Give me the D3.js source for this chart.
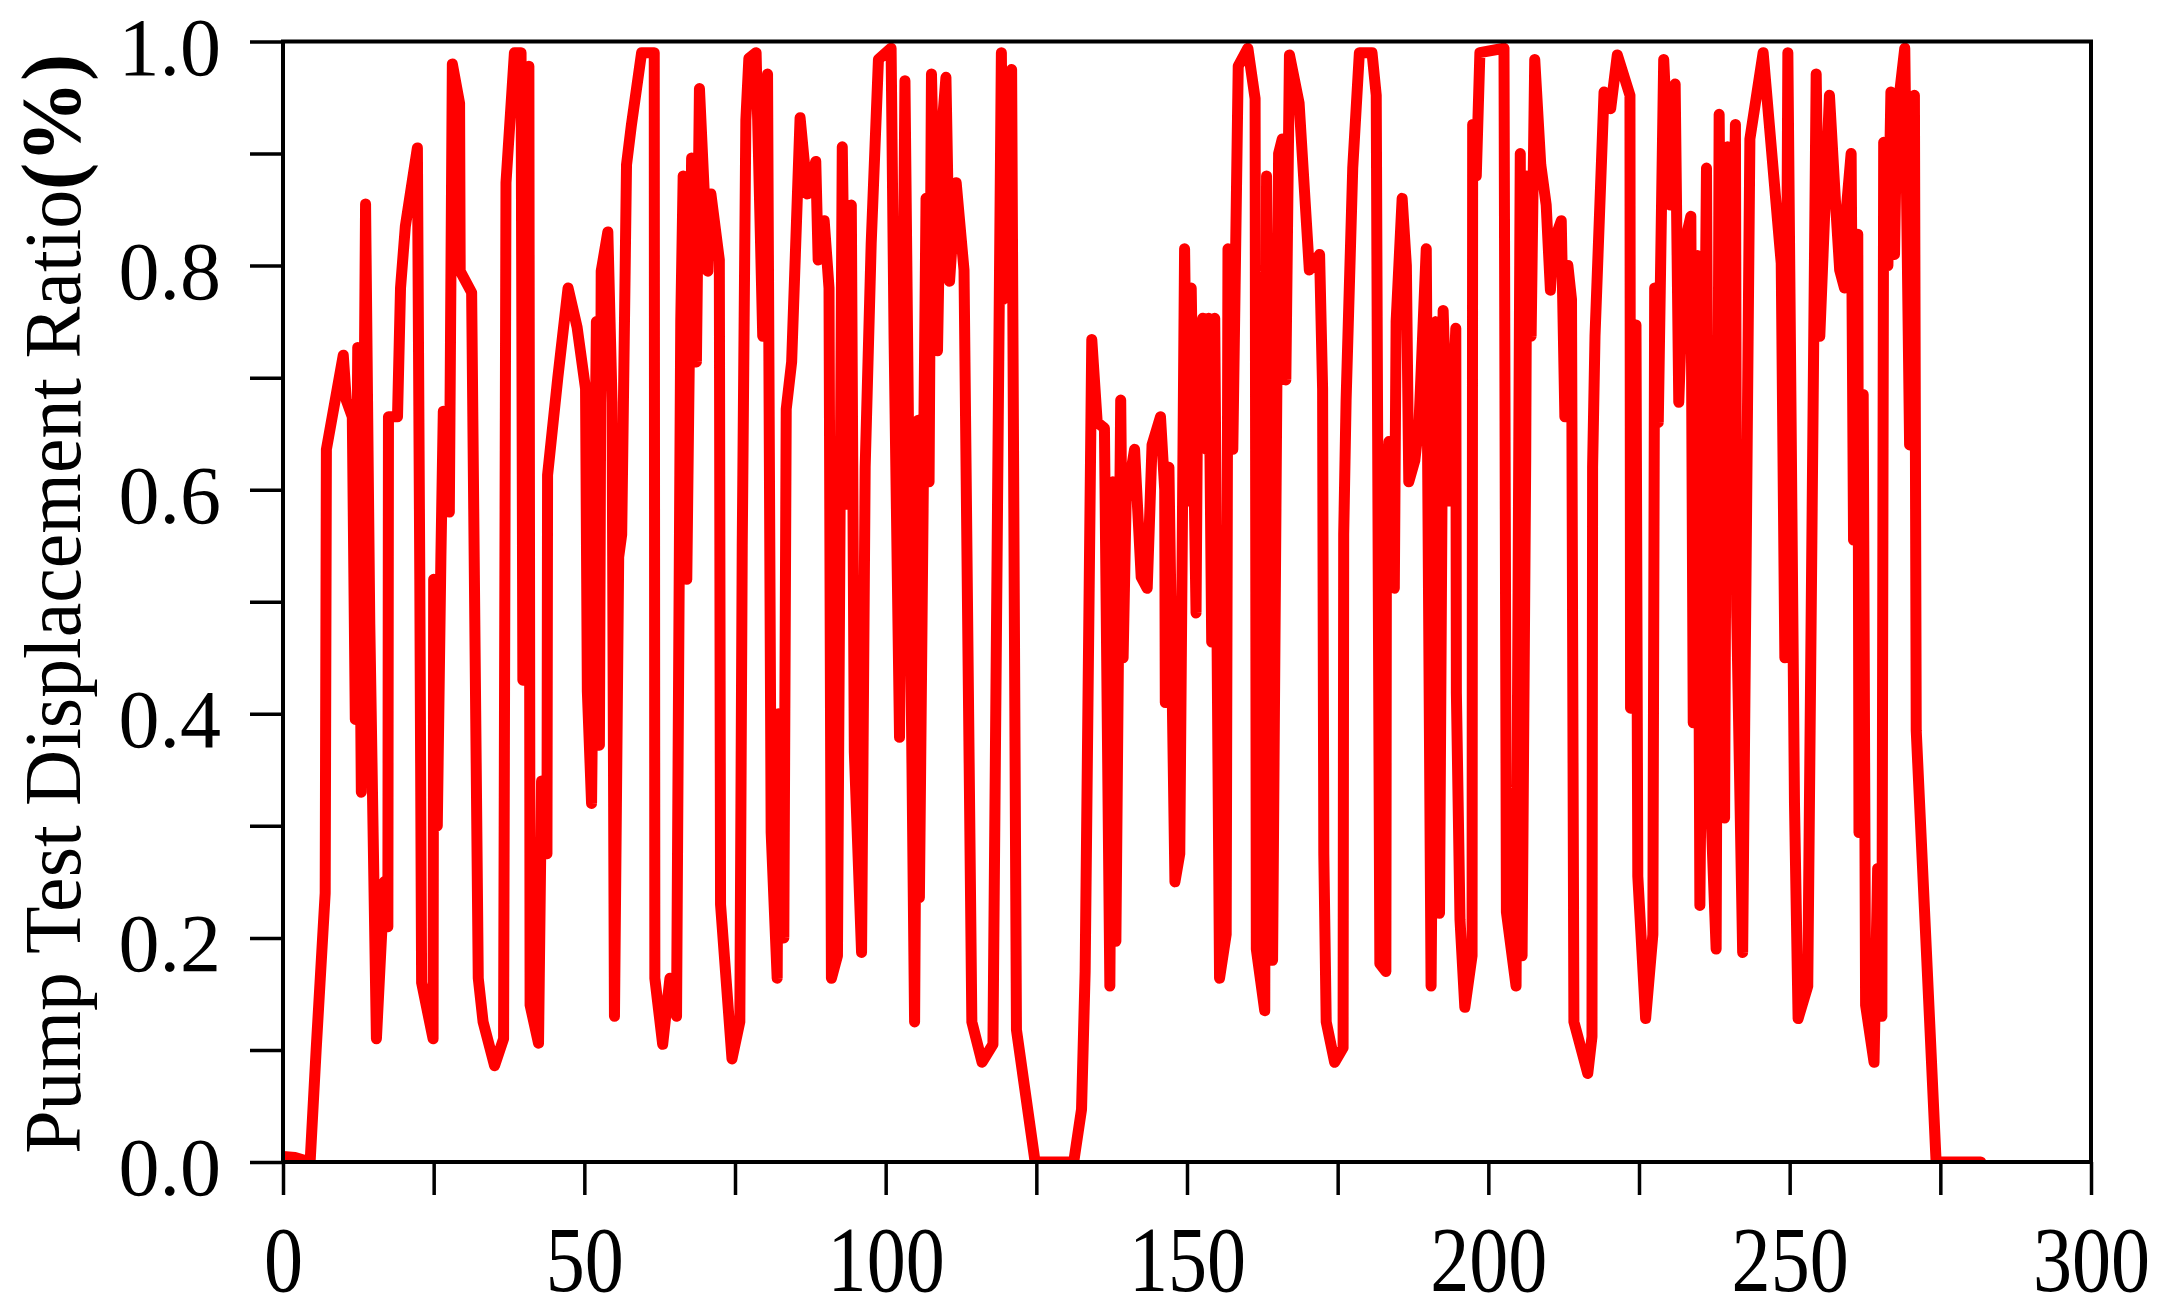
<!DOCTYPE html>
<html>
<head>
<meta charset="utf-8">
<script src="https://d3js.org/d3.v7.min.js"></script>
<style>
  html, body { margin: 0; padding: 0; background: #fff; }
  svg { display: block; }
  text { font-family: "Liberation Serif", "Times New Roman", Times, serif; }
</style>
</head>
<body>
<svg id="chart" width="2167" height="1314"></svg>
<script>
// ---- data ----
const timeValues = [
  0, 2, 4.5, 5.5, 7.0, 7.2, 10.0, 10.5, 11.5, 12.0, 12.4, 13.0, 13.7, 14.4, 15.5, 16.8, 17.4, 17.5, 19.0, 19.5,
  20.3, 22.3, 22.7, 23.0, 24.9, 25.0, 25.6, 26.2, 26.6, 27.6, 28.1, 29.3, 29.4, 31.3, 32.4, 33.2, 35.1, 36.6, 37.0, 38.4,
  39.5, 39.8, 40.8, 41.0, 42.4, 42.9, 43.8, 43.9, 45.6, 47.3, 48.8, 50.2, 50.5, 51.2, 52.0, 52.5, 52.8, 53.9, 54.6, 55.0,
  55.7, 56.2, 57.0, 57.8, 59.5, 61.6, 61.7, 63.0, 64.2, 65.3, 66.0, 66.4, 67.0, 67.8, 68.6, 69.1, 70.5, 71.0, 72.4, 72.6,
  74.5, 75.8, 76.2, 76.8, 77.3, 78.5, 79.6, 80.4, 81.0, 82.0, 82.2, 83.1, 83.5, 84.4, 85.8, 87.0, 88.4, 88.8, 89.8, 90.6,
  91.0, 92.0, 92.8, 93.6, 94.3, 94.8, 96.0, 96.6, 97.6, 98.8, 100.9, 101.4, 102.3, 103.2, 104.8, 105.4, 105.6, 106.7, 107.2, 107.6,
  108.6, 109.2, 110.0, 110.6, 111.7, 113.0, 114.3, 116.0, 117.8, 119.2, 119.5, 120.9, 121.7, 124.8, 131.2, 132.5, 133.1, 134.2, 135.1, 136.3,
  137.2, 137.7, 138.2, 139.0, 139.4, 139.9, 141.3, 142.4, 143.4, 144.2, 145.6, 146.3, 146.4, 147.0, 148.0, 148.8, 149.6, 150.1, 150.7, 151.5,
  151.8, 152.6, 153.2, 153.6, 154.1, 154.6, 155.4, 156.5, 156.8, 157.6, 158.5, 160.1, 161.3, 161.5, 162.9, 163.2, 164.2, 165.2, 165.8, 166.4,
  167.0, 168.6, 170.3, 172.0, 172.5, 172.7, 173.1, 174.5, 175.9, 176.0, 176.4, 177.5, 178.6, 180.7, 181.4, 182.0, 183.0, 183.1, 183.5, 184.4,
  184.7, 185.7, 186.4, 186.8, 187.8, 188.5, 189.7, 190.5, 191.3, 191.9, 192.5, 193.5, 194.6, 194.7, 195.3, 196.1, 197.3, 197.4, 198.0, 198.6,
  202.6, 203.0, 204.6, 205.3, 205.6, 206.2, 206.4, 207.1, 207.7, 208.7, 209.6, 210.3, 210.8, 212.1, 212.7, 213.2, 213.8, 214.2, 216.5, 217.2,
  217.3, 217.7, 219.2, 220.3, 221.4, 223.5, 223.6, 224.5, 224.8, 226.1, 227.3, 227.6, 228.2, 229.1, 230.2, 231.0, 231.6, 232.5, 233.6, 234.0,
  234.7, 235.1, 236.2, 236.7, 237.8, 238.3, 239.2, 239.7, 240.3, 241.0, 241.2, 242.2, 243.4, 245.6, 248.6, 249.2, 249.7, 250.8, 251.4, 253.0,
  254.4, 255.0, 256.6, 257.7, 258.3, 259.1, 259.4, 260.2, 260.6, 261.3, 261.5, 262.2, 262.6, 264.0, 264.6, 265.3, 265.6, 266.3, 266.8, 267.4,
  267.7, 268.2, 269.1, 269.9, 270.7, 271.0, 274.3, 281.7
];
const ratioValues = [
  0.005, 0.004, 0.0, 0.10, 0.24, 0.636, 0.72, 0.68, 0.665, 0.395, 0.727, 0.33, 0.855, 0.48, 0.11, 0.25, 0.21, 0.665, 0.665, 0.78,
  0.835, 0.905, 0.52, 0.16, 0.11, 0.52, 0.30, 0.54, 0.67, 0.58, 0.98, 0.945, 0.795, 0.776, 0.164, 0.125, 0.086, 0.11, 0.874, 0.99,
  0.99, 0.43, 0.978, 0.14, 0.106, 0.34, 0.275, 0.613, 0.70, 0.78, 0.745, 0.69, 0.42, 0.32, 0.75, 0.372, 0.795, 0.83, 0.678, 0.13,
  0.54, 0.56, 0.89, 0.925, 0.99, 0.99, 0.164, 0.105, 0.164, 0.13, 0.75, 0.88, 0.52, 0.896, 0.714, 0.958, 0.795, 0.864, 0.805, 0.23,
  0.092, 0.125, 0.55, 0.93, 0.985, 0.99, 0.737, 0.971, 0.294, 0.164, 0.40, 0.20, 0.672, 0.714, 0.932, 0.864, 0.893, 0.805, 0.84, 0.78,
  0.164, 0.184, 0.906, 0.587, 0.854, 0.366, 0.187, 0.62, 0.82, 0.984, 0.994, 0.734, 0.379, 0.965, 0.125, 0.662, 0.236, 0.86, 0.607, 0.971,
  0.724, 0.913, 0.968, 0.786, 0.874, 0.796, 0.125, 0.089, 0.105, 0.99, 0.77, 0.975, 0.118, 0.0, 0.0, 0.047, 0.17, 0.734, 0.66, 0.655,
  0.157, 0.607, 0.197, 0.68, 0.45, 0.59, 0.636, 0.522, 0.512, 0.64, 0.665, 0.60, 0.41, 0.62, 0.25, 0.275, 0.815, 0.59, 0.78, 0.49,
  0.714, 0.753, 0.636, 0.753, 0.464, 0.753, 0.164, 0.203, 0.815, 0.636, 0.978, 0.994, 0.949, 0.19, 0.135, 0.88, 0.18, 0.90, 0.913, 0.698,
  0.988, 0.945, 0.796, 0.81, 0.69, 0.275, 0.125, 0.089, 0.102, 0.56, 0.68, 0.887, 0.99, 0.99, 0.952, 0.177, 0.17, 0.607, 0.643, 0.512,
  0.75, 0.86, 0.80, 0.607, 0.626, 0.66, 0.815, 0.157, 0.75, 0.222, 0.76, 0.59, 0.744, 0.418, 0.216, 0.138, 0.184, 0.926, 0.88, 0.99,
  0.994, 0.223, 0.157, 0.90, 0.184, 0.626, 0.88, 0.737, 0.984, 0.89, 0.854, 0.778, 0.82, 0.84, 0.665, 0.80, 0.77, 0.125, 0.079, 0.112,
  0.62, 0.737, 0.955, 0.94, 0.988, 0.952, 0.405, 0.747, 0.255, 0.128, 0.203, 0.78, 0.66, 0.984, 0.854, 0.962, 0.678, 0.818, 0.844, 0.392,
  0.809, 0.229, 0.887, 0.346, 0.19, 0.935, 0.307, 0.906, 0.656, 0.926, 0.493, 0.187, 0.913, 0.99, 0.802, 0.45, 0.99, 0.32, 0.128, 0.157,
  0.971, 0.737, 0.952, 0.848, 0.796, 0.78, 0.85, 0.90, 0.555, 0.828, 0.294, 0.685, 0.14, 0.089, 0.262, 0.13, 0.91, 0.80, 0.955, 0.81,
  0.913, 0.952, 0.994, 0.64, 0.952, 0.385, 0.0, 0.0
];
const xTickValues = [0, 50, 100, 150, 200, 250, 300];
const xMinorTicks = [25, 75, 125, 175, 225, 275];
const yTickValues = [0.0, 0.2, 0.4, 0.6, 0.8, 1.0];
const yMinorTicks = [0.1, 0.3, 0.5, 0.7, 0.9];
const yLabelMain = "Pump Test Displacement Ratio";
const yLabelUnit = "(%)";

// ---- layout ----
const svg = d3.select("#chart");
const plotL = 283, plotR = 2091, plotT = 41.5, plotB = 1162;
const x = d3.scaleLinear().domain([0, 300]).range([plotL, plotR]);
const y = d3.scaleLinear().domain([0, 1]).range([plotB, plotT]);
const fontFamily = "Liberation Serif, Times New Roman, Times, serif";

const data = timeValues.map((t, i) => ({ t, v: ratioValues[i] }));

svg.append("defs").append("clipPath").attr("id", "plotclip")
  .append("rect").attr("x", plotL).attr("y", plotT - 6).attr("width", plotR - plotL).attr("height", plotB - plotT + 6);

svg.append("path")
  .datum(data)
  .attr("clip-path", "url(#plotclip)")
  .attr("fill", "none")
  .attr("stroke", "#ff0000")
  .attr("stroke-width", 11)
  .attr("stroke-linejoin", "round")
  .attr("stroke-linecap", "round")
  .attr("d", d3.line().x(d => x(d.t)).y(d => y(d.v)));

// frame
svg.append("rect")
  .attr("x", plotL).attr("y", plotT)
  .attr("width", plotR - plotL).attr("height", plotB - plotT)
  .attr("fill", "none").attr("stroke", "#000").attr("stroke-width", 4);

// x axis
const xAxis = d3.axisBottom(x).tickValues(xTickValues).tickSize(33).tickFormat(d3.format("d"));
const gx = svg.append("g").attr("transform", `translate(0,${plotB})`).call(xAxis);
gx.select(".domain").remove();
gx.selectAll(".tick line").attr("stroke", "#000").attr("stroke-width", 3.5);
gx.selectAll(".tick text")
  .style("font-family", fontFamily)
  .attr("font-size", 93)
  .attr("fill", "#000")
  .attr("y", 129)
  .attr("dy", 0)
  .attr("transform", "scale(0.84,1)");
const gxm = svg.append("g").attr("transform", `translate(0,${plotB})`)
  .call(d3.axisBottom(x).tickValues(xMinorTicks).tickSize(33).tickFormat(""));
gxm.select(".domain").remove();
gxm.selectAll(".tick line").attr("stroke", "#000").attr("stroke-width", 3.5);

// y axis
const yAxis = d3.axisLeft(y).tickValues(yTickValues).tickSize(33).tickPadding(29).tickFormat(d3.format(".1f"));
const gy = svg.append("g").attr("transform", `translate(${plotL},0)`).call(yAxis);
gy.select(".domain").remove();
gy.selectAll(".tick line").attr("stroke", "#000").attr("stroke-width", 3.5);
gy.selectAll(".tick text")
  .style("font-family", fontFamily)
  .attr("font-size", 82)
  .attr("fill", "#000")
  .attr("dy", "0.4em");
const gym = svg.append("g").attr("transform", `translate(${plotL},0)`)
  .call(d3.axisLeft(y).tickValues(yMinorTicks).tickSize(33).tickFormat(""));
gym.select(".domain").remove();
gym.selectAll(".tick line").attr("stroke", "#000").attr("stroke-width", 3.5);

// y label
const lab = svg.append("text")
  .attr("transform", `translate(80,${(plotT + plotB) / 2 + 2}) rotate(-90)`)
  .attr("text-anchor", "middle")
  .style("font-family", fontFamily)
  .attr("font-size", 80)
  .attr("fill", "#000")
  .attr("textLength", 1100)
  .attr("lengthAdjust", "spacingAndGlyphs");
lab.append("tspan").text(yLabelMain);
lab.append("tspan").attr("font-weight", "bold").attr("font-size", 84).text(yLabelUnit);
</script>
</body>
</html>
